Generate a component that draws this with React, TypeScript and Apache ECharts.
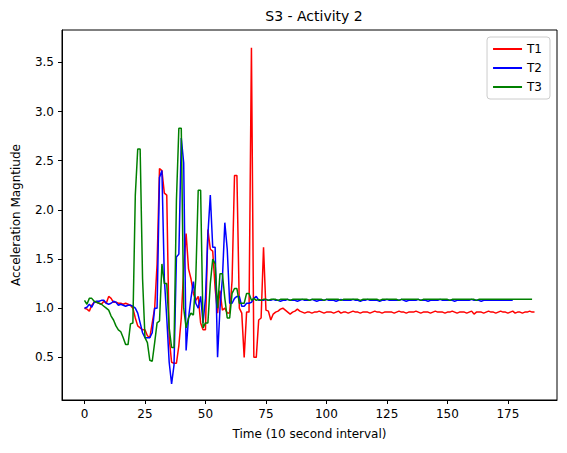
import React, { useRef, useEffect } from 'react'
import * as echarts from 'echarts'

const t1 = [
  1.0, 0.99, 0.97, 1.03, 1.06, 1.06, 1.05, 1.04, 1.07, 1.05, 1.12, 1.1, 1.06, 1.06, 1.05, 1.05, 1.04, 1.05, 1.04, 1.03,
  1.0, 0.9, 0.82, 0.8, 0.78, 0.78, 0.72, 0.7, 0.85, 1.0, 1.45, 2.42, 2.4, 2.17, 2.15, 0.7, 0.45, 0.44, 0.44, 0.62,
  0.9, 1.4, 1.76, 1.4, 1.3, 1.15, 1.08, 1.12, 0.85, 0.78, 0.78, 1.8, 1.6, 1.58, 1.2, 0.95, 1.18, 0.98, 1.0, 0.95,
  0.95, 1.28, 2.35, 2.35, 1.0, 0.95, 0.5, 0.96, 0.96, 3.65, 0.5, 0.5, 0.88, 0.9, 1.62, 0.98, 0.97, 0.88, 0.94, 0.96,
  0.97, 0.99, 1.0, 0.98, 0.96, 0.94, 0.96, 0.97, 0.99, 0.97, 0.96,
  0.95, 0.96, 0.96, 0.95, 0.96, 0.96, 0.97, 0.96, 0.95, 0.96, 0.96, 0.96,
  0.95, 0.96, 0.97, 0.95, 0.96, 0.96, 0.95, 0.96, 0.97, 0.96, 0.96, 0.95,
  0.96, 0.96, 0.96, 0.95, 0.96, 0.97, 0.96, 0.96, 0.95, 0.96, 0.96, 0.96,
  0.96, 0.95, 0.96, 0.97, 0.96, 0.96, 0.95, 0.96, 0.96, 0.96, 0.97, 0.96,
  0.95, 0.96, 0.96, 0.96, 0.95, 0.96, 0.97, 0.96, 0.96, 0.96, 0.95, 0.96,
  0.96, 0.97, 0.96, 0.95, 0.96, 0.96, 0.96, 0.95, 0.96, 0.97, 0.94, 0.96,
  0.96, 0.96, 0.95, 0.96, 0.97, 0.96, 0.96, 0.95, 0.96, 0.97, 0.96, 0.96,
  0.95, 0.96, 0.97, 0.95, 0.96, 0.96, 0.95, 0.96, 0.96, 0.97, 0.96, 0.96,
]

const t2 = [
  1.0, 1.01, 1.04, 1.01, 1.06, 1.07, 1.07, 1.08, 1.08, 1.05, 1.04, 1.05, 1.07, 1.06, 1.03, 1.04, 1.03, 1.02, 1.03, 1.03,
  1.02, 1.0, 0.95, 0.85, 0.75, 0.7, 0.7, 0.7, 0.75, 1.0, 1.0, 2.33, 2.4, 1.3, 0.9, 0.45, 0.23, 0.42, 1.52, 1.55,
  2.73, 2.48, 0.57, 0.9, 1.1, 1.27, 1.05, 1.0, 1.12, 0.85, 1.1, 1.75, 2.15, 1.62, 1.62, 0.5, 1.0, 1.3, 1.87, 1.6,
  1.05, 1.05, 1.1, 1.12, 1.12, 1.02, 1.02, 1.05, 1.05, 1.06, 1.1, 1.12, 1.08, 1.08,
  1.08, 1.09, 1.08, 1.08, 1.09, 1.08, 1.08, 1.07, 1.08, 1.08, 1.09, 1.08, 1.08,
  1.08, 1.07, 1.08, 1.09, 1.08, 1.08, 1.08, 1.09, 1.08, 1.07, 1.08, 1.08, 1.08,
  1.09, 1.08, 1.08, 1.08, 1.07, 1.08, 1.09, 1.08, 1.08, 1.08, 1.08, 1.09, 1.08,
  1.08, 1.07, 1.08, 1.08, 1.09, 1.08, 1.08, 1.08, 1.08, 1.07, 1.08, 1.08, 1.09,
  1.08, 1.08, 1.08, 1.08, 1.08, 1.09, 1.08, 1.07, 1.08, 1.08, 1.08, 1.08, 1.09,
  1.08, 1.08, 1.08, 1.07, 1.08, 1.08, 1.08, 1.08, 1.09, 1.08, 1.08, 1.08, 1.08,
  1.08, 1.07, 1.08, 1.08, 1.08, 1.08, 1.08, 1.08, 1.09, 1.08, 1.08, 1.08, 1.07,
  1.08, 1.08, 1.08, 1.08, 1.08, 1.08, 1.08, 1.08, 1.08, 1.08, 1.08, 1.08, 1.08,
]

const t3 = [
  1.08, 1.04, 1.1, 1.1, 1.07, 1.06, 1.05, 1.04, 1.02, 1.0, 0.98, 0.92, 0.88, 0.82, 0.78, 0.76, 0.7, 0.63, 0.63, 0.84,
  0.85, 2.15, 2.62, 2.62, 1.3, 0.7, 0.65, 0.47, 0.46, 0.65, 0.85, 0.87, 1.45, 1.25, 1.25, 0.8, 0.6, 0.6, 2.1, 2.83,
  2.83, 1.0, 0.8, 0.9, 0.95, 0.93, 1.3, 2.2, 2.2, 0.8, 0.85, 0.85, 1.25, 1.5, 1.45, 1.0, 1.35, 1.35, 1.1, 0.9,
  0.9, 1.15, 1.2, 1.2, 1.05, 1.05, 1.05, 1.15, 1.15, 1.08, 1.1, 1.08,
  1.09, 1.08, 1.09, 1.09, 1.08, 1.09, 1.09, 1.09, 1.08, 1.09, 1.09, 1.09, 1.09, 1.08, 1.09, 1.09, 1.09, 1.09, 1.09,
  1.09, 1.09, 1.08, 1.09, 1.09, 1.09, 1.09, 1.09, 1.08, 1.09, 1.09, 1.09, 1.09, 1.09, 1.09, 1.08, 1.09, 1.09, 1.09,
  1.09, 1.09, 1.09, 1.09, 1.08, 1.09, 1.09, 1.09, 1.09, 1.09, 1.09, 1.09, 1.08, 1.09, 1.09, 1.09, 1.09, 1.09, 1.09,
  1.09, 1.08, 1.09, 1.09, 1.09, 1.09, 1.09, 1.09, 1.09, 1.09, 1.08, 1.09, 1.09, 1.09, 1.09, 1.09, 1.09, 1.09, 1.09,
  1.09, 1.09, 1.09, 1.08, 1.09, 1.09, 1.09, 1.09, 1.09, 1.09, 1.09, 1.09, 1.09, 1.09, 1.08, 1.09, 1.09, 1.09, 1.09,
  1.09, 1.09, 1.09, 1.09, 1.09, 1.09, 1.09, 1.09, 1.09, 1.09, 1.09, 1.09, 1.09, 1.09, 1.09, 1.09, 1.09, 1.09, 1.09,
]

const seriesNames = ['T1', 'T2', 'T3']
const seriesColors = ['#ff0000', '#0000ff', '#008000']
const xTicks = [0, 25, 50, 75, 100, 125, 150, 175]
const yTicks = [0.5, 1.0, 1.5, 2.0, 2.5, 3.0, 3.5]

const FONT = 'DejaVu Sans'

function App() {
  const chartRef = useRef(null)

  useEffect(() => {
    document.body.style.margin = '0'
    const chart = echarts.init(chartRef.current, null, { renderer: 'svg' })
    const axisCommon = {
      axisLine: { show: true, onZero: false, lineStyle: { color: '#000', width: 1 } },
      axisTick: { show: true, inside: false, length: 4, lineStyle: { color: '#000' } },
      splitLine: { show: false },
      nameLocation: 'middle',
      nameTextStyle: { color: '#000', fontSize: 12, fontFamily: FONT },
    }
    const option = {
      animation: false,
      title: {
        text: 'S3 - Activity 2',
        left: 309,
        textAlign: 'center',
        top: 4,
        textStyle: { fontSize: 14, fontWeight: 'normal', color: '#000', fontFamily: FONT },
      },
      legend: {
        data: seriesNames,
        orient: 'vertical',
        right: 17,
        top: 37,
        itemWidth: 29,
        itemHeight: 2,
        itemGap: 7,
        icon: 'rect',
        padding: [6, 8, 6, 6],
        borderColor: '#ccc',
        borderWidth: 1,
        borderRadius: 3,
        textStyle: { fontSize: 12, color: '#000', fontFamily: FONT },
      },
      grid: { left: 62, right: 10, top: 30, bottom: 53, show: true, borderColor: '#000', borderWidth: 1 },
      xAxis: {
        ...axisCommon,
        type: 'value',
        min: -9.3,
        max: 195.3,
        name: 'Time (10 second interval)',
        nameGap: 28,
        axisLabel: {
          color: '#000',
          fontSize: 12,
          fontFamily: FONT,
          customValues: xTicks,
          formatter: (v: number) => String(v),
        },
        axisTick: { ...axisCommon.axisTick, customValues: xTicks },
      },
      yAxis: {
        ...axisCommon,
        type: 'value',
        min: 0.066,
        max: 3.83,
        name: 'Acceleration Magntiude',
        nameGap: 40,
        axisLabel: {
          color: '#000',
          fontSize: 12,
          fontFamily: FONT,
          customValues: yTicks,
          formatter: (v: number) => v.toFixed(1),
        },
        axisTick: { ...axisCommon.axisTick, customValues: yTicks },
      },
      series: [t1, t2, t3].map((arr, k) => ({
        name: seriesNames[k],
        type: 'line',
        showSymbol: false,
        symbol: 'none',
        data: arr.map((v, i) => [i, v]),
        lineStyle: { color: seriesColors[k], width: 1.5 },
        itemStyle: { color: seriesColors[k] },
      })),
    }
    chart.setOption(option)
    return () => {
      chart.dispose()
    }
  }, [])

  return <div ref={chartRef} style={{ width: '567px', height: '453px', background: '#fff' }}></div>
}

export default App
